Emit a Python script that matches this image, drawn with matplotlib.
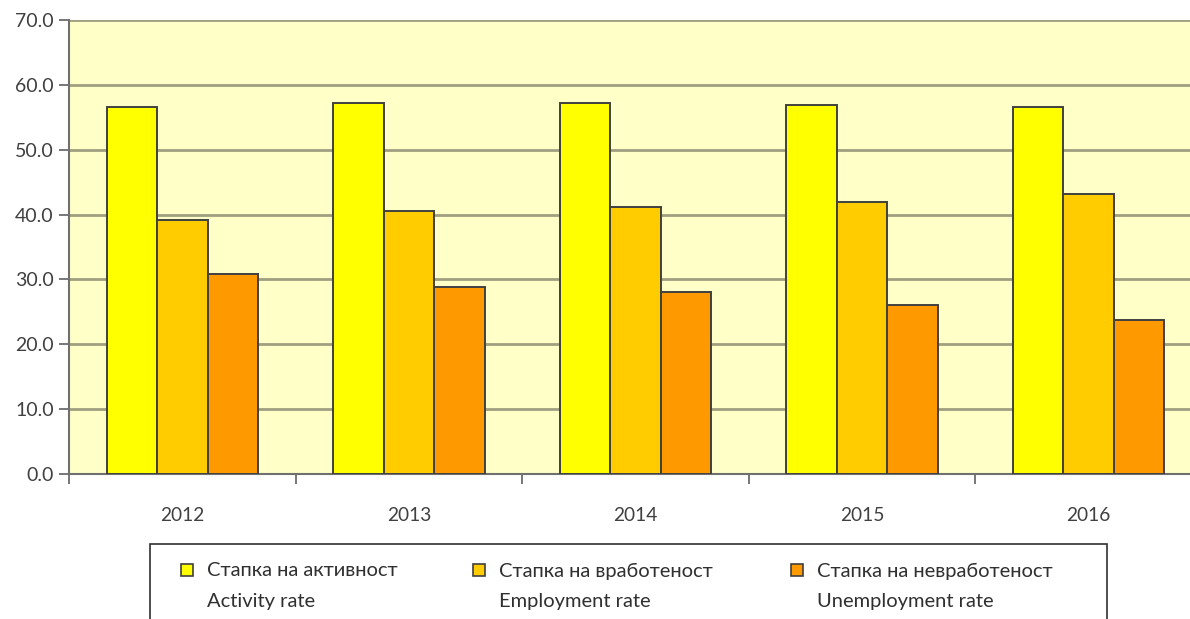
import numpy as np
import matplotlib.pyplot as plt
from matplotlib.patches import Rectangle

# podaci
godini = ['2012', '2013', '2014', '2015', '2016']
aktivnost = [56.6, 57.2, 57.2, 56.9, 56.6]
vrabotenost = [39.2, 40.5, 41.2, 41.9, 43.2]
nevrabotenost = [30.9, 28.8, 28.0, 26.0, 23.7]

serii_mk = ['Стапка на активност', 'Стапка на вработеност', 'Стапка на невработеност']
serii_en = ['Activity rate', 'Employment rate', 'Unemployment rate']
boi = ['#FFFF00', '#FFCC00', '#FF9900']

plt.rcParams['font.family'] = ['Lato', 'DejaVu Sans']

fig = plt.figure(figsize=(11.9, 6.19), dpi=100)
W, H = 1190, 619
ax = fig.add_axes([69 / W, 1 - 474 / H, 1133 / W, (474 - 20) / H])
ax.set_facecolor('#FFFFC8')

x = np.arange(len(godini))
sirina = 0.223
for i, vals in enumerate([aktivnost, vrabotenost, nevrabotenost]):
    ax.bar(x + (i - 1) * sirina, vals, sirina, color=boi[i],
           edgecolor='#404040', linewidth=1.4, zorder=3)

ax.set_xlim(-0.5, 4.5)
ax.set_ylim(0, 70)
ax.set_yticks(np.arange(0, 71, 10))
ax.set_yticklabels(['%.1f' % v for v in np.arange(0, 71, 10)], fontsize=14, color='#404040')
ax.set_xticks(x)
ax.set_xticklabels(godini, fontsize=13.8, color='#404040')
ax.set_xticks(np.arange(-0.5, 5, 1), minor=True)
ax.tick_params(axis='x', which='major', length=0, pad=24)
ax.tick_params(axis='x', which='minor', length=7, width=1.2, color='#606060')
ax.tick_params(axis='y', length=7, width=1.2, color='#606060', pad=4)
ax.yaxis.grid(True, color='#A09F80', linewidth=2, zorder=1)
ax.set_axisbelow(True)
for s in ['top', 'right']:
    ax.spines[s].set_visible(False)
for s in ['left', 'bottom']:
    ax.spines[s].set_color('#707070')
    ax.spines[s].set_linewidth(1.5)

# legenda
fig.patches.append(Rectangle((150 / W, -0.05), (1107 - 150) / W, 0.05 + 1 - 544 / H,
                             transform=fig.transFigure, facecolor='white',
                             edgecolor='#303030', linewidth=1.2))
for xm, mk, en, c in zip([187, 479, 797], serii_mk, serii_en, boi):
    fig.patches.append(Rectangle(((xm - 6) / W, 1 - 576 / H), 12 / W, 12 / H,
                                 transform=fig.transFigure, facecolor=c,
                                 edgecolor='#404040', linewidth=1.2))
    fig.text((xm + 20) / W, 1 - 571 / H, mk, fontsize=14.5, color='#303030', va='center')
    fig.text((xm + 20) / W, 1 - 602 / H, en, fontsize=14.5, color='#303030', va='center')

fig.savefig('out.png', dpi=100)
